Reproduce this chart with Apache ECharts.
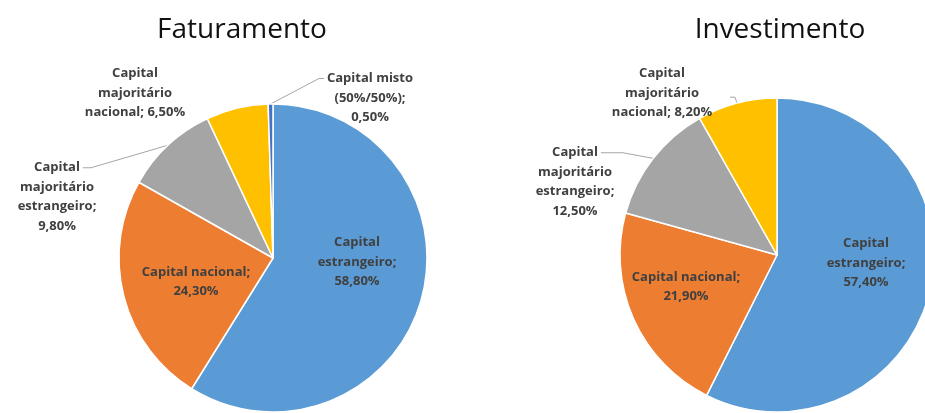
<!DOCTYPE html>
<html>
<head>
<meta charset="utf-8">
<script src="https://cdn.jsdelivr.net/npm/echarts@6/dist/echarts.min.js"></script>
<style>
  html, body { margin: 0; padding: 0; background: #ffffff; }
  #chart { width: 925px; height: 413px; }
</style>
</head>
<body>
<div id="chart"></div>
<script>
// Composition by type of capital: revenue (Faturamento) vs investment (Investimento)
const categories = ['Capital estrangeiro', 'Capital nacional', 'Capital majoritário estrangeiro', 'Capital majoritário nacional', 'Capital misto (50%/50%)'];
const faturamento = [58.8, 24.3, 9.8, 6.5, 0.5];
const investimento = [57.4, 21.9, 12.5, 8.2];

// Label text as broken into lines (value appended after)
const faturamentoLabels = ['Capital\nestrangeiro;\n', 'Capital nacional;\n', 'Capital\nmajoritário\nestrangeiro;\n', 'Capital\nmajoritário\nnacional; ', 'Capital misto\n(50%/50%);\n'];
const investimentoLabels = ['Capital\nestrangeiro;\n', 'Capital nacional;\n', 'Capital\nmajoritário\nestrangeiro;\n', 'Capital\nmajoritário\nnacional; '];

const titles = ['Faturamento', 'Investimento'];
const colors = ['#5B9BD5', '#ED7D31', '#A5A5A5', '#FFC000', '#4472C4'];

// ---- layout ----
const LABEL_FONT = 'bold 13px "Open Sans"';
const LINE_H = 19.5;
const pies = [
  { center: [273, 258], radius: 154, titleX: 237 },
  { center: [777, 255], radius: 157, titleX: 775 }
];
// label block centres per series / slice
const labelSpots = [
  [[357, 262], [196, 282], [57, 197], [135, 93], [370, 98]],
  [[866, 263], [686, 287], [575, 182], [662, 93]]
];
// leader lines: attach side of first text line and horizontal run
const leaders = [
  [null, null, { attach: 'right', run: 8 }, null, { attach: 'left', run: 5 }],
  [null, null, { attach: 'right', run: 22 }, { attach: 'stub' }]
];

const measureCtx = document.createElement('canvas').getContext('2d');
function textWidth(s) {
  measureCtx.font = LABEL_FONT;
  return measureCtx.measureText(s).width;
}
function fmt(v) {
  return v.toFixed(2).replace('.', ',') + '%';
}

function buildData(values, labels) {
  return values.map(function (v, i) {
    const outside = i >= 2;
    const noLine = (values === faturamento && i === 3);
    return {
      name: categories[i],
      value: v,
      labelText: labels[i] + fmt(v),
      itemStyle: { color: colors[i] },
      label: { position: outside ? 'outside' : 'inside' },
      labelLine: { show: outside && !noLine }
    };
  });
}

function makeLayout(seriesIdx) {
  return function (p) {
    const spot = labelSpots[seriesIdx][p.dataIndex];
    const out = { x: spot[0], y: spot[1], align: 'center', verticalAlign: 'middle' };
    const lead = leaders[seriesIdx][p.dataIndex];
    if (lead && p.labelLinePoints) {
      const p0 = p.labelLinePoints[0];
      if (lead.attach === 'stub') {
        out.labelLinePoints = [p0, [p0[0] - 2, p0[1] - 6], [p0[0] - 7, p0[1] - 6]];
      } else {
        const first = p.text.split('\n')[0];
        const w = textWidth(first);
        const h = p.labelRect.height;
        const yLine = spot[1] - h / 2 + LINE_H / 2;
        const endX = lead.attach === 'left' ? spot[0] - w / 2 - 3 : spot[0] + w / 2 + 3;
        const bendX = lead.attach === 'left' ? endX - lead.run : endX + lead.run;
        out.labelLinePoints = [p0, [bendX, yLine], [endX, yLine]];
      }
    }
    return out;
  };
}

function makeSeries(idx, values, labels) {
  return {
    type: 'pie',
    center: pies[idx].center,
    radius: pies[idx].radius,
    startAngle: 90,
    clockwise: true,
    avoidLabelOverlap: false,
    animation: false,
    itemStyle: { borderColor: '#ffffff', borderWidth: 1.5 },
    label: {
      show: true,
      formatter: function (p) { return p.data.labelText; },
      fontFamily: '"Open Sans"',
      fontWeight: 'bold',
      fontSize: 13,
      lineHeight: LINE_H,
      color: '#404040'
    },
    labelLine: {
      show: true,
      length: 10,
      length2: 10,
      lineStyle: { color: '#A6A6A6', width: 1 }
    },
    emphasis: { disabled: true },
    labelLayout: makeLayout(idx),
    data: buildData(values, labels)
  };
}

const chart = echarts.init(document.getElementById('chart'), null, { renderer: 'canvas' });
chart.setOption({
  backgroundColor: '#ffffff',
  animation: false,
  title: titles.map(function (t, i) {
    return {
      text: t,
      left: pies[i].titleX,
      top: 11,
      textAlign: 'center',
      textStyle: { fontFamily: '"Open Sans"', fontWeight: 'normal', fontSize: 28, color: '#111111' }
    };
  }),
  series: [
    makeSeries(0, faturamento, faturamentoLabels),
    makeSeries(1, investimento, investimentoLabels)
  ]
});
</script>
</body>
</html>
